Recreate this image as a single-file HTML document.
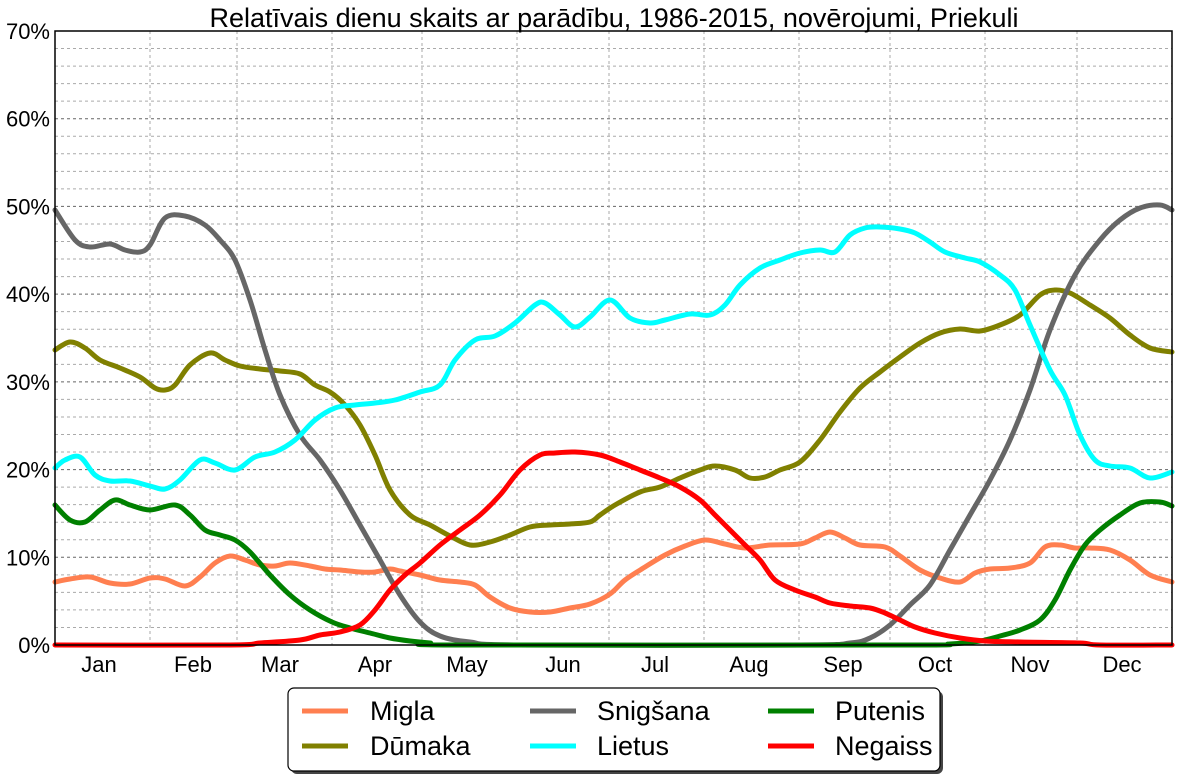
<!DOCTYPE html>
<html><head><meta charset="utf-8"><style>
body{margin:0;background:#fff;width:1178px;height:778px;overflow:hidden;font-family:"Liberation Sans",sans-serif}
</style></head><body>
<svg id="s" width="1178" height="778" xmlns="http://www.w3.org/2000/svg" font-family="Liberation Sans, sans-serif">
<rect width="1178" height="778" fill="#fff"/>
<g id="grid"></g>
<g id="lines" fill="none" stroke-width="5" stroke-linejoin="round" stroke-linecap="round"></g>
<rect x="55" y="31" width="1117" height="614" fill="none" stroke="#000" stroke-width="1.5"/>
<g id="ticks"></g>
<text x="614" y="27" font-size="27" text-anchor="middle">Relatīvais dienu skaits ar parādību, 1986-2015, novērojumi, Priekuli</text>
<rect x="291" y="691" width="652" height="83" rx="6" fill="#444"/>
<rect x="288" y="688" width="652" height="83" rx="6" fill="#fff" stroke="#000" stroke-width="1.2"/>
<g stroke-width="5">
<line x1="302" y1="711" x2="348" y2="711" stroke="#ff7f50"/>
<line x1="302" y1="746" x2="348" y2="746" stroke="#808000"/>
<line x1="530" y1="711" x2="576" y2="711" stroke="#666"/>
<line x1="530" y1="746" x2="576" y2="746" stroke="#00ffff"/>
<line x1="768" y1="711" x2="814" y2="711" stroke="#008000"/>
<line x1="768" y1="746" x2="814" y2="746" stroke="#ff0000"/>
</g>
<g font-size="27">
<text x="370" y="720">Migla</text><text x="370" y="755">Dūmaka</text>
<text x="597" y="720">Snigšana</text><text x="597" y="755">Lietus</text>
<text x="835" y="720">Putenis</text><text x="835" y="755">Negaiss</text>
</g>
</svg>
<script>
const NS="http://www.w3.org/2000/svg";
function el(p,t,a,txt){const e=document.createElementNS(NS,t);for(const k in a)e.setAttribute(k,a[k]);if(txt)e.textContent=txt;p.appendChild(e);return e;}
const g=document.getElementById('grid'),tk=document.getElementById('ticks');
for(let i=1;i<35;i++){const y=645-i*614/35;el(g,'line',{x1:55,x2:1172,y1:y,y2:y,stroke:i%5==0?'#666':'#aaa','stroke-width':1,'stroke-dasharray':'3,3'});}
[150,237,332,422,517,609,704,799,890,985,1077].forEach(x=>{el(g,'line',{x1:x,x2:x,y1:31,y2:645,stroke:'#aaa','stroke-width':1,'stroke-dasharray':'3,3'});});
for(let i=0;i<=7;i++){el(tk,'text',{x:50,y:645-i*87.714+8,'font-size':22,'text-anchor':'end'},i*10+'%');}
const mx=[99,193,280,375,467,563,655,749,843,935,1030,1122],mn=['Jan','Feb','Mar','Apr','May','Jun','Jul','Aug','Sep','Oct','Nov','Dec'];
mx.forEach((x,i)=>el(tk,'text',{x:x,y:672,'font-size':22,'text-anchor':'middle'},mn[i]));
function path(pts){let d='M'+pts[0][0]+','+pts[0][1];for(let i=0;i<pts.length-1;i++){const p0=pts[i-1]||pts[i],p1=pts[i],p2=pts[i+1],p3=pts[i+2]||p2;d+=' C'+(p1[0]+(p2[0]-p0[0])/6)+','+(p1[1]+(p2[1]-p0[1])/6)+' '+(p2[0]-(p3[0]-p1[0])/6)+','+(p2[1]-(p3[1]-p1[1])/6)+' '+p2[0]+','+p2[1];}return d;}
const L=document.getElementById('lines');
const S={
'#ff7f50':[[55,582],[70,579],[90,577],[110,583],[130,584],[150,578],[165,579],[185,586],[200,577],[215,563],[230,556],[245,560],[260,565],[275,566],[290,563],[310,566],[325,569],[340,570],[360,572],[375,572],[390,569],[400,571],[420,575],[440,580],[460,582],[475,585],[490,597],[510,608],[530,612],[550,612],[570,608],[590,604],[610,594],[625,580],[645,567],[665,555],[685,546],[705,540],[725,544],[745,548],[770,545],[800,544],[815,538],[830,532],[845,538],[860,545],[885,547],[900,556],[920,570],[940,578],[960,582],[975,573],[990,569],[1010,568],[1030,563],[1045,547],[1060,545],[1075,548],[1090,548],[1110,550],[1130,560],[1150,575],[1172,582]],
'#808000':[[55,350],[70,342],[85,348],[100,360],[120,368],[140,377],[155,388],[165,390],[175,385],[190,365],[210,353],[225,360],[240,366],[260,369],[280,371],[300,374],[315,385],[330,392],[345,405],[360,425],[375,455],[390,490],[410,515],[430,525],[450,536],[470,545],[490,542],[510,535],[530,527],[550,525],[570,524],[590,522],[600,515],[615,505],[640,492],[660,487],[680,478],[700,470],[715,466],[735,470],[750,478],[765,477],[780,470],[800,462],[820,440],[840,412],[860,388],[880,372],[900,357],[920,343],[940,333],[960,329],[980,331],[1000,325],[1020,315],[1040,295],[1055,290],[1070,293],[1090,305],[1110,318],[1130,335],[1150,348],[1172,352]],
'#666666':[[55,210],[75,240],[90,247],[110,244],[125,250],[140,252],[150,245],[165,218],[185,216],[205,225],[220,240],[235,260],[250,300],[265,350],[280,395],[300,435],[320,460],[340,490],[360,525],[380,560],[400,595],[420,622],[440,636],[470,642],[520,645],[800,645],[850,643],[870,638],[890,625],[910,605],[930,585],[950,550],[970,515],[990,480],[1010,440],[1030,390],[1050,330],[1075,275],[1100,240],[1120,220],[1140,208],[1160,205],[1172,210]],
'#00ffff':[[55,468],[65,460],[80,457],[95,475],[110,481],[130,481],[150,486],[165,489],[180,480],[200,460],[215,463],[235,470],[255,457],[275,452],[295,440],[315,420],[335,408],[355,405],[375,403],[395,400],[420,392],[440,385],[455,360],[475,340],[495,336],[515,323],[535,305],[545,303],[560,315],[575,327],[590,317],[610,300],[630,318],[650,323],[665,320],[690,314],[710,315],[725,305],[740,285],[760,268],[780,260],[800,253],[820,250],[835,252],[850,235],[865,228],[880,227],[900,229],[915,233],[930,242],[945,252],[965,258],[980,262],[1000,275],[1015,290],[1030,325],[1050,370],[1065,395],[1080,435],[1095,460],[1110,466],[1130,468],[1150,478],[1172,472]],
'#008000':[[55,505],[70,520],[85,522],[100,510],[115,500],[130,505],[150,510],[175,505],[190,515],[205,530],[220,535],[235,540],[250,552],[270,575],[290,595],[310,610],[332,622],[350,628],[370,633],[390,638],[410,641],[430,643],[460,645],[900,645],[950,644],[980,641],[1000,636],[1020,630],[1040,620],[1055,600],[1070,570],[1085,545],[1100,530],[1120,515],[1140,503],[1160,502],[1172,506]],
'#ff0000':[[55,645],[230,645],[260,643],[300,640],[320,635],[340,632],[360,625],[375,610],[390,590],[405,575],[420,563],[440,545],[460,530],[480,515],[500,495],[520,470],[540,455],[555,453],[575,452],[600,455],[620,462],[640,470],[660,478],[680,487],[700,500],[715,515],[730,530],[745,545],[760,560],[775,580],[795,590],[815,597],[830,603],[850,606],[870,608],[885,613],[900,620],[915,627],[935,633],[960,638],[985,641],[1020,642],[1080,643],[1100,645],[1172,645]]};
for(const c in S)el(L,'path',{d:path(S[c]),stroke:c});
</script>
</body></html>
